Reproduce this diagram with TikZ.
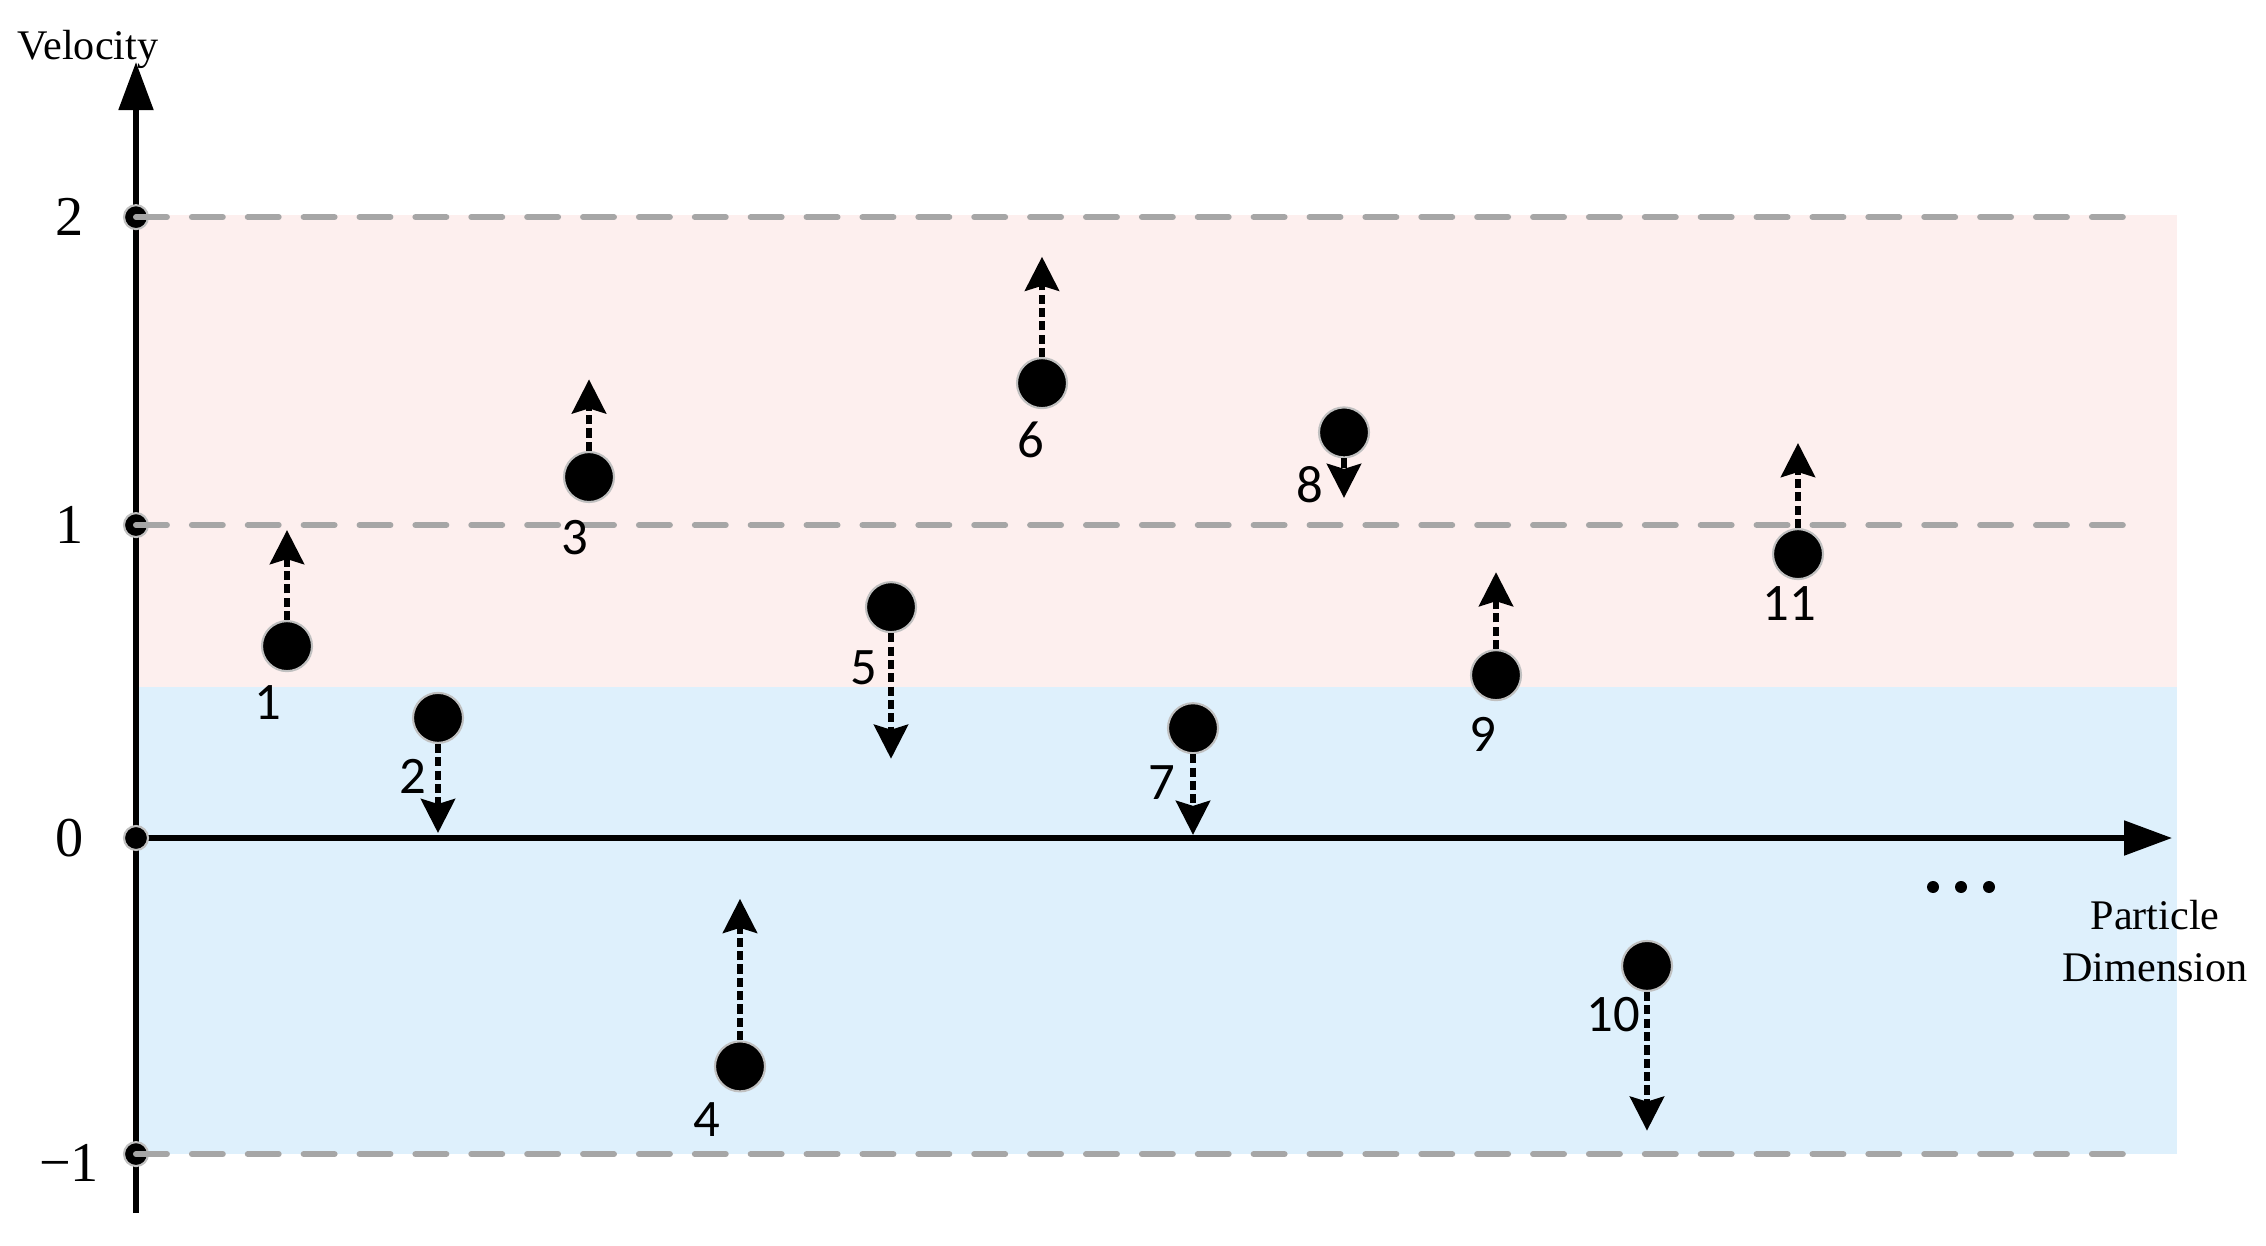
\documentclass[tikz,border=0pt]{standalone}
\usepackage{fontspec}
\setmainfont{Liberation Serif}
\newfontfamily\calibri{Carlito}
\usetikzlibrary{
  arrows.meta
}
\definecolor{ink}{HTML}{000000}
\definecolor{rim}{HTML}{C0C0C0}
\definecolor{bound}{HTML}{A6A6A6}
\definecolor{upper}{HTML}{FDEFEE}
\definecolor{lower}{HTML}{DEF0FC}
\tikzset{
  axis/.style={
    -{Triangle[length=4.8mm,width=3.4mm]},
    line width=1.5pt,
    draw=ink
  },
  limit/.style={
    line width=1.7pt,
    draw=bound,
    line cap=round,
    dash pattern=on 8.8pt off 7.1pt
  },
  tickdot/.style={
    circle,
    fill=ink,
    draw=rim,
    line width=0.6pt,
    minimum size=2.4mm,
    inner sep=0pt
  },
  particle/.style={
    circle,
    fill=ink,
    draw=rim,
    line width=0.6pt,
    minimum size=5mm,
    inner sep=0pt
  },
  move/.style={
    -{Stealth[length=3.4mm,width=3.4mm,inset=0.5mm]},
    line width=1.7pt,
    dash pattern=on 2.6pt off 1.2pt,
    draw=ink
  },
  pnum/.style={
    font=\calibri\fontsize{15}{18}\selectfont,
    inner sep=0pt
  },
  tickval/.style={
    font=\fontsize{16}{19}\selectfont,
    inner sep=0pt
  },
  axislabel/.style={
    font=\fontsize{12}{15}\selectfont,
    align=center,
    inner sep=0pt
  }
}

\begin{document}
\begin{tikzpicture}[x=1cm, y=3.12cm]
  \useasboundingbox (0,-1.3045) rectangle (22.66,2.686);

  % velocity bands
  \fill[upper] (1.36,0.485) rectangle (21.77,1.997);
  \fill[lower] (1.36,-1.013) rectangle (21.77,0.485);

  % axes
  \coordinate (ybot) at (1.36,-1.202);
  \coordinate (ytop) at (1.36,2.487);
  \coordinate (xend) at (21.72,0);
  \draw[axis] (ybot) -- (ytop);
  \node[tickdot] (v2) at (1.36,1.99) {};
  \node[tickdot] (v1) at (1.36,1.003) {};
  \node[tickdot] (vm1) at (1.36,-1.013) {};
  \draw[axis] (1.36,0) -- (xend);
  \node[tickdot] (v0) at (1.36,0) {};

  \node[tickval] (l2) at (0.70,1.99) {2};
  \node[tickval] (l1) at (0.70,1.003) {1};
  \node[tickval] (l0) at (0.70,0) {0};
  \node[tickval] (lm1) at (0.69,-1.04) {−1};

  \node[axislabel, anchor=base] (vel) at (0.88,2.494) {Velocity};
  \node[axislabel] (dim) at (21.55,-0.33) {Particle\\Dimension};

  % bounds
  \coordinate (e2) at (21.38,1.99);
  \coordinate (e1) at (21.38,1.003);
  \coordinate (em1) at (21.38,-1.013);
  \draw[limit] (v2.center) -- (e2);
  \draw[limit] (v1.center) -- (e1);
  \draw[limit] (vm1.center) -- (em1);

  % particles
  \node[particle] (p1) at (2.87,0.615) {};
  \node[particle] (p2) at (4.38,0.385) {};
  \node[particle] (p3) at (5.89,1.157) {};
  \node[particle] (p4) at (7.40,-0.732) {};
  \node[particle] (p5) at (8.91,0.74) {};
  \node[particle] (p6) at (10.42,1.458) {};
  \node[particle] (p7) at (11.93,0.352) {};
  \node[particle] (p8) at (13.44,1.30) {};
  \node[particle] (p9) at (14.96,0.522) {};
  \node[particle] (p10) at (16.47,-0.41) {};
  \node[particle] (p11) at (17.98,0.91) {};

  \coordinate (t1) at (2.87,0.987);
  \coordinate (t2) at (4.38,0.016);
  \coordinate (t3) at (5.89,1.47);
  \coordinate (t4) at (7.40,-0.195);
  \coordinate (t5) at (8.91,0.254);
  \coordinate (t6) at (10.42,1.863);
  \coordinate (t7) at (11.93,0.01);
  \coordinate (t8) at (13.44,1.09);
  \coordinate (t9) at (14.96,0.852);
  \coordinate (t10) at (16.47,-0.938);
  \coordinate (t11) at (17.98,1.266);

  \draw[move] (p1) -- (t1);
  \draw[move] (p2) -- (t2);
  \draw[move] (p3) -- (t3);
  \draw[move] (p4) -- (t4);
  \draw[move] (p5) -- (t5);
  \draw[move] (p6) -- (t6);
  \draw[move] (p7) -- (t7);
  \draw[move] (p8) -- (t8);
  \draw[move] (p9) -- (t9);
  \draw[move] (p10) -- (t10);
  \draw[move] (p11) -- (t11);

  \node[pnum] (n1) at (2.68,0.433) {1};
  \node[pnum] (n2) at (4.13,0.196) {2};
  \node[pnum] (n3) at (5.75,0.963) {3};
  \node[pnum] (n4) at (7.07,-0.904) {4};
  \node[pnum] (n5) at (8.64,0.546) {5};
  \node[pnum] (n6) at (10.31,1.276) {6};
  \node[pnum] (n7) at (11.62,0.179) {7};
  \node[pnum] (n8) at (13.10,1.131) {8};
  \node[pnum] (n9) at (14.83,0.333) {9};
  \node[pnum] (n10) at (16.13,-0.567) {10};
  \node[pnum] (n11) at (17.89,0.75) {11};

  % more dimensions
  \fill[ink] (19.33,-0.157) circle (0.6mm);
  \fill[ink] (19.61,-0.157) circle (0.6mm);
  \fill[ink] (19.89,-0.157) circle (0.6mm);
\end{tikzpicture}
\end{document}
